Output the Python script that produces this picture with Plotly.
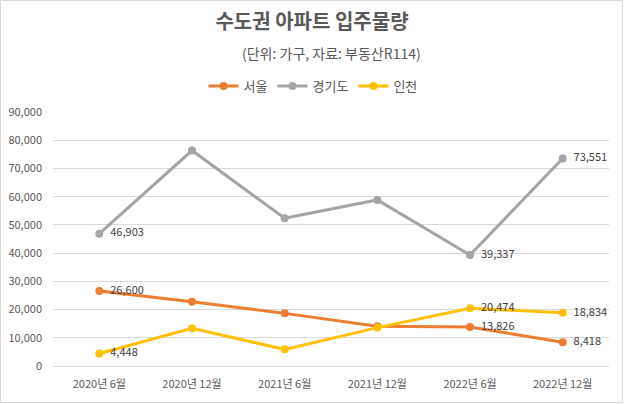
import plotly.graph_objects as go

categories = ["2020년 6월", "2020년 12월", "2021년 6월", "2021년 12월", "2022년 6월", "2022년 12월"]
seoul = [26600, 22800, 18650, 14100, 13826, 8418]
gyeonggi = [46903, 76350, 52350, 58850, 39337, 73551]
incheon = [4448, 13350, 5900, 13600, 20474, 18834]
label_idx = [0, 4, 5]

series = [
    ("서울", seoul, "#ED7D31"),
    ("경기도", gyeonggi, "#A5A5A5"),
    ("인천", incheon, "#FFC000"),
]

FONT = "Noto Sans CJK KR"

fig = go.Figure()
for name, vals, color in series:
    texts = [f"  {v:,}" if i in label_idx else "" for i, v in enumerate(vals)]
    fig.add_trace(go.Scatter(
        x=categories, y=vals, name=name,
        mode="lines+markers+text",
        line=dict(color=color, width=3),
        marker=dict(color=color, size=8),
        text=texts, textposition="middle right",
        textfont=dict(family=FONT, size=11, color="#404040"),
        cliponaxis=False, hoverinfo="skip",
    ))

W, H = 624, 404
ml, mr, mt, mb = 53, 15, 112, 38
pw = W - ml - mr
ph = H - mt - mb

fig.update_layout(
    width=W, height=H,
    margin=dict(l=ml, r=mr, t=mt, b=mb, autoexpand=False),
    paper_bgcolor="white", plot_bgcolor="white",
    font=dict(family=FONT, color="#595959"),
    title=dict(text="<b>수도권 아파트 입주물량</b>", x=0.5, xanchor="center",
               y=1 - 22 / H, yanchor="middle",
               font=dict(family=FONT, size=20, color="#595959")),
    showlegend=True,
    legend=dict(orientation="h", x=0.5 - 18 / pw, xanchor="center",
                y=(H - mb - 86) / ph, yanchor="middle",
                font=dict(family=FONT, size=13, color="#595959"),
                itemwidth=30, tracegroupgap=0, bgcolor="rgba(0,0,0,0)"),
    xaxis=dict(range=[-0.5, len(categories) - 0.5], automargin=False,
               showgrid=False, showline=False, ticks="", zeroline=False,
               ticklabelstandoff=10,
               tickfont=dict(family=FONT, size=11, color="#595959")),
    yaxis=dict(range=[0, 90000], dtick=10000, tickformat=",", automargin=False,
               showgrid=True, gridcolor="#D9D9D9", gridwidth=1,
               zeroline=True, zerolinecolor="#D9D9D9", zerolinewidth=1,
               showline=False, ticks="", ticklabelstandoff=10,
               tickfont=dict(family=FONT, size=11, color="#595959")),
    annotations=[dict(text="(단위: 가구, 자료: 부동산R114)", xref="paper", yref="paper",
                      x=0.5, y=(H - mb - 53) / ph, xanchor="center", yanchor="middle",
                      showarrow=False, font=dict(family=FONT, size=14, color="#595959"))],
    shapes=[dict(type="rect", xref="paper", yref="paper",
                 x0=-(ml - 0.5) / pw, x1=(W - ml - 1.5) / pw,
                 y0=-(mb - 1.5) / ph, y1=(H - mb - 0.5) / ph,
                 line=dict(color="#D9D9D9", width=1), layer="below")],
)

fig.write_html("out.html", config={"displayModeBar": False},
               post_script="document.body.style.margin='0';document.body.style.overflow='hidden';")
